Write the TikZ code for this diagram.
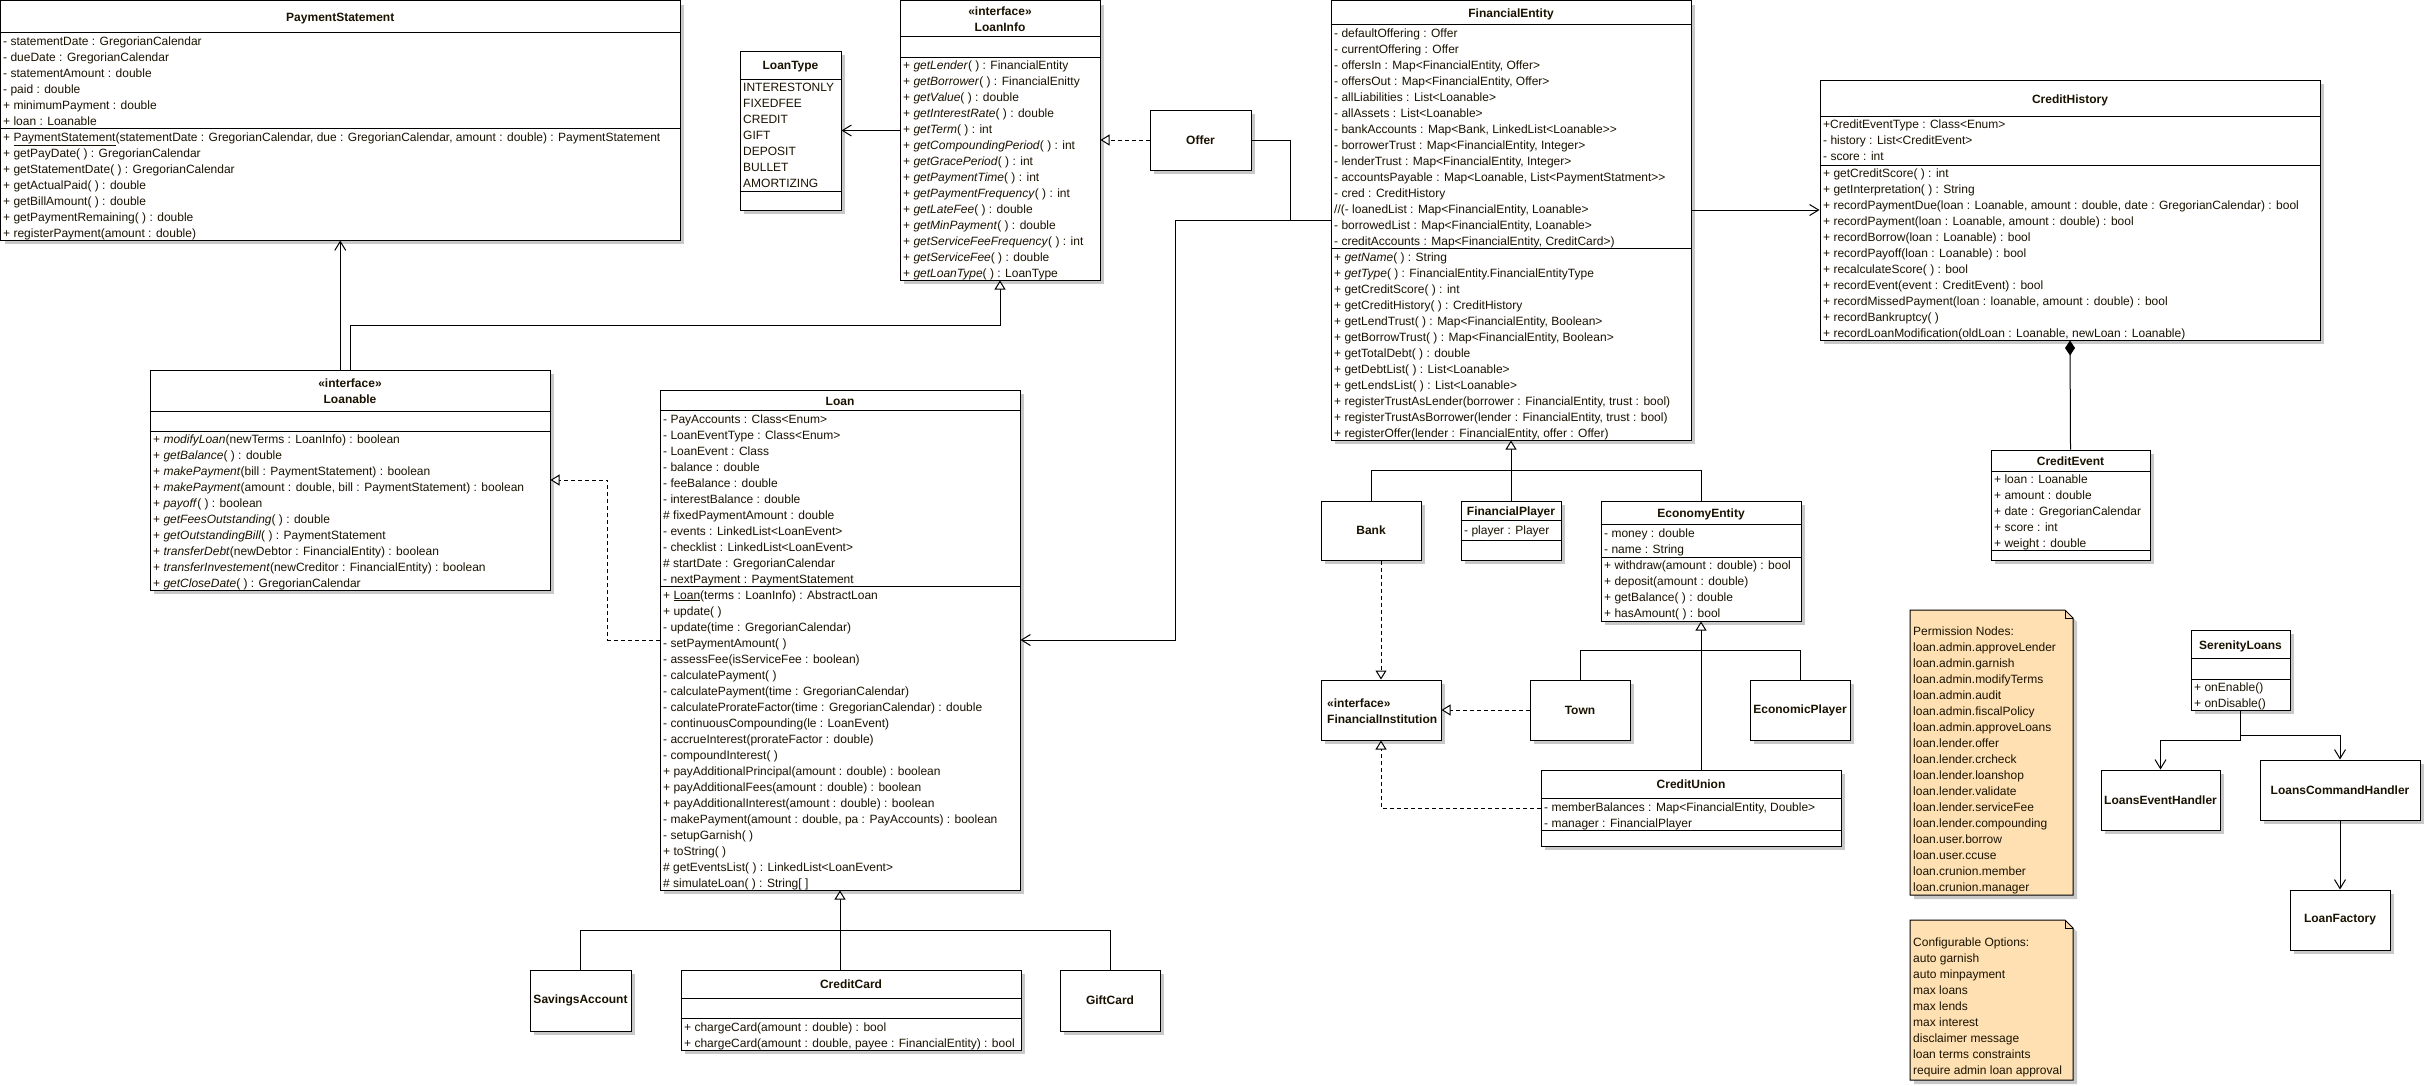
\documentclass[tikz,border=0pt]{standalone}
\usepackage{fontspec}
\setmainfont{Liberation Sans}
\usetikzlibrary{arrows.meta,positioning,calc,shadows}
\definecolor{umlInk}{HTML}{000000}
\definecolor{umlText}{HTML}{1A1200}
\definecolor{umlShade}{HTML}{C8C8C8}
\definecolor{umlNote}{HTML}{FFE0B2}
\newcommand{\umlfont}{\fontsize{12}{14}\selectfont}
\newcommand{\umlbold}{\fontsize{12}{14}\selectfont\bfseries}
\tikzset{
  cls/.style={draw=umlInk, fill=white, line width=1pt, inner sep=0pt, text=umlText,
    drop shadow={shadow xshift=4pt, shadow yshift=-4pt, fill=umlShade, opacity=1}},
  ttl/.style={anchor=base, inner sep=0pt, font=\umlbold, text=umlText},
  row/.style={anchor=base west, inner sep=0pt, font=\umlfont, text=umlText},
  sep/.style={draw=umlInk, line width=1pt},
  wire/.style={draw=umlInk, line width=1pt},
  assoc/.style={wire, -{Straight Barb[length=9pt, width=11pt]}},
  gen/.style={wire, -{Triangle[open, fill=white, length=9pt, width=11pt]}},
  real/.style={gen, dash pattern=on 4pt off 3pt},
  comp/.style={wire, {Diamond[length=15pt, width=10pt]}-},
  notebox/.style={draw=umlInk, fill=umlNote, line width=1pt,
    drop shadow={shadow xshift=4pt, shadow yshift=-4pt, fill=umlShade, opacity=1}},
}
% class frame: name, x1, y1, x2, y2
\newcommand{\clsbox}[5]{\node[cls, minimum width={#4-#2}, minimum height={#5-#3}] (#1) at ({(#2+#4)/2},{(#3+#5)/2}) {};}
% class with only its name
\newcommand{\namebox}[6]{\node[cls, font=\umlbold, minimum width={#4-#2}, minimum height={#5-#3}] (#1) at ({(#2+#4)/2},{(#3+#5)/2}) {#6};}
% compartment line
\newcommand{\umlsep}[2]{\draw[sep] (#1.west |- 0,#2) -- (#1.east |- 0,#2);}
% text rows: prefix, x, y of first row, list
\newcommand{\umlrows}[4]{\foreach \rowtxt [count=\i] in {#4} {\node[row] (#1\i) at (#2,{#3+4+16*(\i-1)}) {\rowtxt};}}

\begin{document}
\begin{tikzpicture}[x=1pt, y=-1pt]
  \fill[white] (0,0) rectangle (2425,1085);
  \useasboundingbox (0,0) rectangle (2425,1085);

  % ---------- PaymentStatement ----------
  \clsbox{PaymentStatement}{0.5}{0.5}{680}{240}
  \node[ttl] (PaymentStatementT) at (PaymentStatement.north |- 0,21) {PaymentStatement};
  \umlsep{PaymentStatement}{32} \umlsep{PaymentStatement}{128}
  \umlrows{psa}{3}{41}{{- statementDate : GregorianCalendar},{- dueDate : GregorianCalendar},{- statementAmount : double},{- paid : double},{+ minimumPayment : double},{+ loan : Loanable}}
  \umlrows{psm}{3}{137}{{+ \underline{PaymentStatement}(statementDate : GregorianCalendar, due : GregorianCalendar, amount : double) : PaymentStatement},{+ getPayDate( ) : GregorianCalendar},{+ getStatementDate( ) : GregorianCalendar},{+ getActualPaid( ) : double},{+ getBillAmount( ) : double},{+ getPaymentRemaining( ) : double},{+ registerPayment(amount : double)}}

  % ---------- LoanType ----------
  \clsbox{LoanType}{740}{51}{841}{210}
  \node[ttl] (LoanTypeT) at (LoanType.north |- 0,69) {LoanType};
  \umlsep{LoanType}{79} \umlsep{LoanType}{191}
  \umlrows{lta}{743}{87}{INTERESTONLY,FIXEDFEE,CREDIT,GIFT,DEPOSIT,BULLET,AMORTIZING}

  % ---------- LoanInfo ----------
  \clsbox{LoanInfo}{900}{0.5}{1100}{280}
  \node[ttl] (LoanInfoS) at (LoanInfo.north |- 0,15) {«interface»};
  \node[ttl] (LoanInfoT) at (LoanInfo.north |- 0,31) {LoanInfo};
  \umlsep{LoanInfo}{36} \umlsep{LoanInfo}{57}
  \umlrows{lim}{903}{65}{{+ \textit{getLender}( ) : FinancialEntity},{+ \textit{getBorrower}( ) : FinancialEnitty},{+ \textit{getValue}( ) : double},{+ \textit{getInterestRate}( ) : double},{+ \textit{getTerm}( ) : int},{+ \textit{getCompoundingPeriod}( ) : int},{+ \textit{getGracePeriod}( ) : int},{+ \textit{getPaymentTime}( ) : int},{+ \textit{getPaymentFrequency}( ) : int},{+ \textit{getLateFee}( ) : double},{+ \textit{getMinPayment}( ) : double},{+ \textit{getServiceFeeFrequency}( ) : int},{+ \textit{getServiceFee}( ) : double},{+ \textit{getLoanType}( ) : LoanType}}

  % ---------- Offer ----------
  \namebox{Offer}{1150}{110}{1251}{170}{Offer}

  % ---------- FinancialEntity ----------
  \clsbox{FinancialEntity}{1331}{0.5}{1691}{440}
  \node[ttl] (FinancialEntityT) at (FinancialEntity.north |- 0,17) {FinancialEntity};
  \umlsep{FinancialEntity}{24} \umlsep{FinancialEntity}{248}
  \umlrows{fea}{1334}{33}{{- defaultOffering : Offer},{- currentOffering : Offer},{- offersIn : Map<FinancialEntity, Offer>},{- offersOut : Map<FinancialEntity, Offer>},{- allLiabilities : List<Loanable>},{- allAssets : List<Loanable>},{- bankAccounts : Map<Bank, LinkedList<Loanable>{}>},{- borrowerTrust : Map<FinancialEntity, Integer>},{- lenderTrust : Map<FinancialEntity, Integer>},{- accountsPayable : Map<Loanable, List<PaymentStatment>{}>},{- cred : CreditHistory},{//(- loanedList : Map<FinancialEntity, Loanable>},{- borrowedList : Map<FinancialEntity, Loanable>},{- creditAccounts : Map<FinancialEntity, CreditCard>)}}
  \umlrows{fem}{1334}{257}{{+ \textit{getName}( ) : String},{+ \textit{getType}( ) : FinancialEntity.FinancialEntityType},{+ getCreditScore( ) : int},{+ getCreditHistory( ) : CreditHistory},{+ getLendTrust( ) : Map<FinancialEntity, Boolean>},{+ getBorrowTrust( ) : Map<FinancialEntity, Boolean>},{+ getTotalDebt( ) : double},{+ getDebtList( ) : List<Loanable>},{+ getLendsList( ) : List<Loanable>},{+ registerTrustAsLender(borrower : FinancialEntity, trust : bool)},{+ registerTrustAsBorrower(lender : FinancialEntity, trust : bool)},{+ registerOffer(lender : FinancialEntity, offer : Offer)}}

  % ---------- CreditHistory ----------
  \clsbox{CreditHistory}{1820}{80}{2320}{340}
  \node[ttl] (CreditHistoryT) at (CreditHistory.north |- 0,103) {CreditHistory};
  \umlsep{CreditHistory}{116} \umlsep{CreditHistory}{165}
  \umlrows{cha}{1823}{124}{{+CreditEventType : Class<Enum>},{- history : List<CreditEvent>},{- score : int}}
  \umlrows{chm}{1823}{173}{{+ getCreditScore( ) : int},{+ getInterpretation( ) : String},{+ recordPaymentDue(loan : Loanable, amount : double, date : GregorianCalendar) : bool},{+ recordPayment(loan : Loanable, amount : double) : bool},{+ recordBorrow(loan : Loanable) : bool},{+ recordPayoff(loan : Loanable) : bool},{+ recalculateScore( ) : bool},{+ recordEvent(event : CreditEvent) : bool},{+ recordMissedPayment(loan : loanable, amount : double) : bool},{+ recordBankruptcy( )},{+ recordLoanModification(oldLoan : Loanable, newLoan : Loanable)}}

  % ---------- Loanable ----------
  \clsbox{Loanable}{150}{370}{550}{590}
  \node[ttl] (LoanableS) at (Loanable.north |- 0,387) {«interface»};
  \node[ttl] (LoanableT) at (Loanable.north |- 0,403) {Loanable};
  \umlsep{Loanable}{411} \umlsep{Loanable}{431}
  \umlrows{lbm}{153}{439}{{+ \textit{modifyLoan}(newTerms : LoanInfo) : boolean},{+ \textit{getBalance}( ) : double},{+ \textit{makePayment}(bill : PaymentStatement) : boolean},{+ \textit{makePayment}(amount : double, bill : PaymentStatement) : boolean},{+ \textit{payoff}( ) : boolean},{+ \textit{getFeesOutstanding}( ) : double},{+ \textit{getOutstandingBill}( ) : PaymentStatement},{+ \textit{transferDebt}(newDebtor : FinancialEntity) : boolean},{+ \textit{transferInvestement}(newCreditor : FinancialEntity) : boolean},{+ \textit{getCloseDate}( ) : GregorianCalendar}}

  % ---------- Loan ----------
  \clsbox{Loan}{660}{390}{1020}{890}
  \node[ttl] (LoanT) at (Loan.north |- 0,405) {Loan};
  \umlsep{Loan}{410} \umlsep{Loan}{586}
  \umlrows{lna}{663}{419}{{- PayAccounts : Class<Enum>},{- LoanEventType : Class<Enum>},{- LoanEvent : Class},{- balance : double},{- feeBalance : double},{- interestBalance : double},{\# fixedPaymentAmount : double},{- events : LinkedList<LoanEvent>},{- checklist : LinkedList<LoanEvent>},{\# startDate : GregorianCalendar},{- nextPayment : PaymentStatement}}
  \umlrows{lnm}{663}{595}{{+ \underline{Loan}(terms : LoanInfo) : AbstractLoan},{+ update( )},{- update(time : GregorianCalendar)},{- setPaymentAmount( )},{- assessFee(isServiceFee : boolean)},{- calculatePayment( )},{- calculatePayment(time : GregorianCalendar)},{- calculateProrateFactor(time : GregorianCalendar) : double},{- continuousCompounding(le : LoanEvent)},{- accrueInterest(prorateFactor : double)},{- compoundInterest( )},{+ payAdditionalPrincipal(amount : double) : boolean},{+ payAdditionalFees(amount : double) : boolean},{+ payAdditionalInterest(amount : double) : boolean},{- makePayment(amount : double, pa : PayAccounts) : boolean},{- setupGarnish( )},{+ toString( )},{\# getEventsList( ) : LinkedList<LoanEvent>},{\# simulateLoan( ) : String[ ]}}

  % ---------- Loan subclasses ----------
  \namebox{SavingsAccount}{530}{970}{631}{1031}{SavingsAccount}
  \clsbox{CreditCard}{681}{970}{1021}{1050}
  \node[ttl] (CreditCardT) at (CreditCard.north |- 0,988) {CreditCard};
  \umlsep{CreditCard}{998} \umlsep{CreditCard}{1018}
  \umlrows{ccm}{684}{1027}{{+ chargeCard(amount : double) : bool},{+ chargeCard(amount : double, payee : FinancialEntity) : bool}}
  \namebox{GiftCard}{1060}{970}{1160}{1031}{GiftCard}

  % ---------- FinancialEntity subclasses ----------
  \namebox{Bank}{1321}{501}{1421}{560}{Bank}
  \clsbox{FinancialPlayer}{1461}{501}{1561}{560}
  \node[ttl] (FinancialPlayerT) at (FinancialPlayer.north |- 0,515) {FinancialPlayer};
  \umlsep{FinancialPlayer}{520} \umlsep{FinancialPlayer}{540}
  \umlrows{fpa}{1464}{530}{{- player : Player}}
  \clsbox{EconomyEntity}{1601}{501}{1801}{621}
  \node[ttl] (EconomyEntityT) at (EconomyEntity.north |- 0,517) {EconomyEntity};
  \umlsep{EconomyEntity}{524} \umlsep{EconomyEntity}{557}
  \umlrows{eea}{1604}{533}{{- money : double},{- name : String}}
  \umlrows{eem}{1604}{565}{{+ withdraw(amount : double) : bool},{+ deposit(amount : double)},{+ getBalance( ) : double},{+ hasAmount( ) : bool}}

  % ---------- FinancialInstitution and EconomyEntity subclasses ----------
  \clsbox{FinancialInstitution}{1321}{680}{1441}{740}
  \node[ttl, anchor=base west] (FinancialInstitutionS) at (1327,707) {«interface»};
  \node[ttl, anchor=base west] (FinancialInstitutionT) at (1327,723) {FinancialInstitution};
  \namebox{Town}{1530}{680}{1630}{740}{Town}
  \namebox{EconomicPlayer}{1750}{680}{1850}{740}{EconomicPlayer}
  \clsbox{CreditUnion}{1541}{770}{1841}{846}
  \node[ttl] (CreditUnionT) at (CreditUnion.north |- 0,788) {CreditUnion};
  \umlsep{CreditUnion}{798} \umlsep{CreditUnion}{830}
  \umlrows{cua}{1544}{807}{{- memberBalances : Map<FinancialEntity, Double>},{- manager : FinancialPlayer}}

  % ---------- CreditEvent ----------
  \clsbox{CreditEvent}{1991}{450}{2150}{560}
  \node[ttl] (CreditEventT) at (CreditEvent.north |- 0,465) {CreditEvent};
  \umlsep{CreditEvent}{471} \umlsep{CreditEvent}{550}
  \umlrows{cea}{1994}{479}{{+ loan : Loanable},{+ amount : double},{+ date : GregorianCalendar},{+ score : int},{+ weight : double}}

  % ---------- notes ----------
  \draw[notebox] (1910,610) -- (2065,610) -- (2073,618) -- (2073,895) -- (1910,895) -- cycle;
  \draw[sep, line width=0.6pt] (2065,610) -- (2065,618) -- (2073,618);
  \umlrows{pn}{1913}{631}{{Permission Nodes:},loan.admin.approveLender,loan.admin.garnish,loan.admin.modifyTerms,loan.admin.audit,loan.admin.fiscalPolicy,loan.admin.approveLoans,loan.lender.offer,loan.lender.crcheck,loan.lender.loanshop,loan.lender.validate,loan.lender.serviceFee,loan.lender.compounding,loan.user.borrow,loan.user.ccuse,loan.crunion.member,loan.crunion.manager}
  \draw[notebox] (1910,920) -- (2065,920) -- (2073,928) -- (2073,1080) -- (1910,1080) -- cycle;
  \draw[sep, line width=0.6pt] (2065,920) -- (2065,928) -- (2073,928);
  \umlrows{co}{1913}{942}{{Configurable Options:},{auto garnish},{auto minpayment},{max loans},{max lends},{max interest},{disclaimer message},{loan terms constraints},{require admin loan approval}}

  % ---------- plugin classes ----------
  \clsbox{SerenityLoans}{2191}{630}{2290}{710}
  \node[ttl] (SerenityLoansT) at (SerenityLoans.north |- 0,649) {SerenityLoans};
  \umlsep{SerenityLoans}{658} \umlsep{SerenityLoans}{679}
  \umlrows{slm}{2194}{687}{{+ onEnable()},{+ onDisable()}}
  \namebox{LoansEventHandler}{2101}{770}{2220}{830}{LoansEventHandler}
  \namebox{LoansCommandHandler}{2260}{760}{2420}{820}{LoansCommandHandler}
  \namebox{LoanFactory}{2290}{890}{2390}{950}{LoanFactory}

  % ---------- connectors ----------
  \draw[real] (Offer.west) -- (Offer.west -| LoanInfo.east);
  \draw[assoc] (LoanType.east -| LoanInfo.west) -- (LoanType.east);
  \draw[assoc] (Loanable.north -| PaymentStatement.south) -- (PaymentStatement.south);
  \draw[gen] (Loanable.north) |- (0,325 -| LoanInfo.south) -- (LoanInfo.south);
  \draw[real] (Loan.west) -- ++(-52,0) |- (Loanable.east);
  \draw[assoc] (FinancialEntity.west |- 0,220) -- (1175,220) |- (Loan.east);
  \draw[wire] (Offer.east) -| (1290,220);
  \draw[assoc] (FinancialEntity.east |- CreditHistory.west) -- (CreditHistory.west);
  \draw[comp] (CreditHistory.south) -- (CreditEvent.north);
  \draw[gen] (FinancialPlayer.north) -- (FinancialEntity.south);
  \draw[wire] (Bank.north) |- (0,470 -| EconomyEntity.north) -- (EconomyEntity.north);
  \draw[real] (Bank.south -| FinancialInstitution.north) -- (FinancialInstitution.north);
  \draw[real] (Town.west) -- (FinancialInstitution.east);
  \draw[real] (CreditUnion.west) -| (FinancialInstitution.south);
  \draw[gen] (CreditUnion.north -| EconomyEntity.south) -- (EconomyEntity.south);
  \draw[wire] (Town.north) |- (0,650 -| EconomicPlayer.north) -- (EconomicPlayer.north);
  \draw[gen] (Loan.south |- CreditCard.north) -- (Loan.south);
  \draw[wire] (SavingsAccount.north) |- (0,930 -| GiftCard.north) -- (GiftCard.north);
  \draw[assoc] (SerenityLoans.south) -- ++(0,30) -| (LoansEventHandler.north);
  \draw[assoc] (SerenityLoans.south) -- ++(0,25) -| (LoansCommandHandler.north);
  \draw[assoc] (LoansCommandHandler.south) -- (LoanFactory.north);
\end{tikzpicture}
\end{document}
